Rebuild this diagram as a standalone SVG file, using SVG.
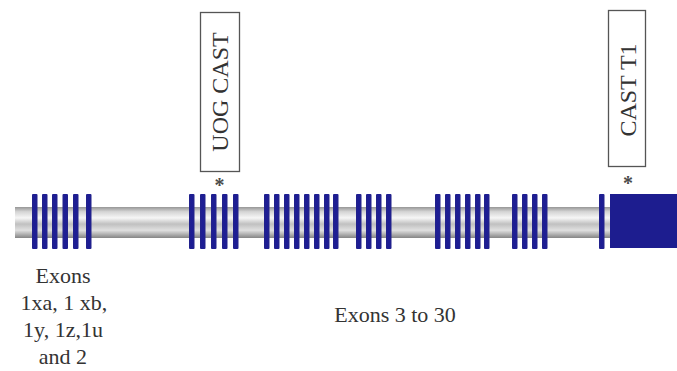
<svg xmlns="http://www.w3.org/2000/svg" width="677" height="371" viewBox="0 0 677 371">
  <defs>
    <linearGradient id="tube" x1="0" y1="0" x2="0" y2="1">
      <stop offset="0" stop-color="#969696"/>
      <stop offset="0.15" stop-color="#d4d4d4"/>
      <stop offset="0.35" stop-color="#f6f6f6"/>
      <stop offset="0.55" stop-color="#c0c0c0"/>
      <stop offset="0.75" stop-color="#e0e0e0"/>
      <stop offset="1" stop-color="#858585"/>
    </linearGradient>
    <linearGradient id="exonFill" x1="0" y1="0" x2="1" y2="0">
      <stop offset="0" stop-color="#22228a"/>
      <stop offset="0.5" stop-color="#1c1c96"/>
      <stop offset="1" stop-color="#22228a"/>
    </linearGradient>
  </defs>
  <style>
    .exon { fill: url(#exonFill); }
    .block { fill: #1d1d8f; }
    .label { font-family: "Liberation Serif", "Times New Roman", serif; font-size: 22px; fill: #333; text-anchor: middle; }
    .tag { font-family: "Liberation Serif", "Times New Roman", serif; font-size: 24px; fill: #333; text-anchor: middle; }
    .tagbox { fill: #fff; stroke: #555; stroke-width: 1.3; }
    .mark { font-family: "Liberation Serif", "Times New Roman", serif; font-size: 20px; font-weight: bold; fill: #4a4a4a; text-anchor: middle; }
  </style>

  <!-- gene backbone -->
  <g id="backbone">
    <rect x="15" y="207" width="662" height="31" fill="url(#tube)"/>
  </g>

  <!-- exon groups -->
  <g id="exons-1-2">
    <rect class="exon" x="32" y="194" width="5.5" height="55" rx="1"/>
    <rect class="exon" x="42" y="194" width="5.5" height="55" rx="1"/>
    <rect class="exon" x="52" y="194" width="5.5" height="55" rx="1"/>
    <rect class="exon" x="62.5" y="194" width="5.5" height="55" rx="1"/>
    <rect class="exon" x="73" y="194" width="5.5" height="55" rx="1"/>
    <rect class="exon" x="86" y="194" width="5.5" height="55" rx="1"/>
  </g>
  <g id="exons-a">
    <rect class="exon" x="189" y="194" width="5.5" height="55" rx="1"/>
    <rect class="exon" x="200" y="194" width="5.5" height="55" rx="1"/>
    <rect class="exon" x="211" y="194" width="5.5" height="55" rx="1"/>
    <rect class="exon" x="222" y="194" width="5.5" height="55" rx="1"/>
    <rect class="exon" x="233" y="194" width="5.5" height="55" rx="1"/>
  </g>
  <g id="exons-b">
    <rect class="exon" x="264" y="194" width="5.5" height="55" rx="1"/>
    <rect class="exon" x="274" y="194" width="5.5" height="55" rx="1"/>
    <rect class="exon" x="284" y="194" width="5.5" height="55" rx="1"/>
    <rect class="exon" x="294" y="194" width="5.5" height="55" rx="1"/>
    <rect class="exon" x="304" y="194" width="5.5" height="55" rx="1"/>
    <rect class="exon" x="314" y="194" width="5.5" height="55" rx="1"/>
    <rect class="exon" x="324" y="194" width="5.5" height="55" rx="1"/>
    <rect class="exon" x="333" y="194" width="5.5" height="55" rx="1"/>
  </g>
  <g id="exons-c">
    <rect class="exon" x="356" y="194" width="5.5" height="55" rx="1"/>
    <rect class="exon" x="366" y="194" width="5.5" height="55" rx="1"/>
    <rect class="exon" x="376" y="194" width="5.5" height="55" rx="1"/>
    <rect class="exon" x="386" y="194" width="5.5" height="55" rx="1"/>
  </g>
  <g id="exons-d">
    <rect class="exon" x="435" y="194" width="5.5" height="55" rx="1"/>
    <rect class="exon" x="445" y="194" width="5.5" height="55" rx="1"/>
    <rect class="exon" x="455" y="194" width="5.5" height="55" rx="1"/>
    <rect class="exon" x="465" y="194" width="5.5" height="55" rx="1"/>
    <rect class="exon" x="475" y="194" width="5.5" height="55" rx="1"/>
    <rect class="exon" x="484" y="194" width="5.5" height="55" rx="1"/>
  </g>
  <g id="exons-e">
    <rect class="exon" x="512" y="194" width="5.5" height="55" rx="1"/>
    <rect class="exon" x="522" y="194" width="5.5" height="55" rx="1"/>
    <rect class="exon" x="532" y="194" width="5.5" height="55" rx="1"/>
    <rect class="exon" x="542" y="194" width="5.5" height="55" rx="1"/>
  </g>
  <g id="exons-last">
    <rect class="exon" x="599" y="194" width="5.5" height="55" rx="1"/>
    <rect class="block" x="610" y="194" width="67" height="54"/>
  </g>

  <!-- marker labels -->
  <g id="marker-uog">
    <rect class="tagbox" x="200.5" y="12.5" width="39" height="159"/>
    <text class="tag" transform="translate(228 92) rotate(-90)">UOG CAST</text>
    <text class="mark" x="219.5" y="192">*</text>
  </g>
  <g id="marker-t1">
    <rect class="tagbox" x="608.5" y="10.5" width="37" height="156"/>
    <text class="tag" transform="translate(635.5 90) rotate(-90)">CAST T1</text>
    <text class="mark" x="628" y="190">*</text>
  </g>

  <!-- exon captions -->
  <g id="caption-first">
    <text class="label" x="63" y="283">Exons</text>
    <text class="label" x="64" y="310">1xa, 1 xb,</text>
    <text class="label" x="63" y="337">1y, 1z,1u</text>
    <text class="label" x="63" y="364">and 2</text>
  </g>
  <g id="caption-rest">
    <text class="label" x="395" y="322">Exons 3 to 30</text>
  </g>
</svg>
